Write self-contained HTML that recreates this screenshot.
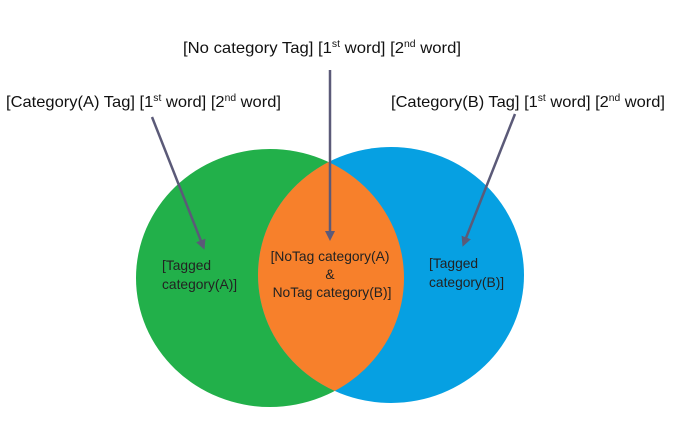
<!DOCTYPE html>
<html><head><style>
body{margin:0;width:675px;height:419px;background:#fff;overflow:hidden;font-family:"Liberation Sans",sans-serif;}
</style></head><body>
<svg width="675" height="419" xmlns="http://www.w3.org/2000/svg" style="font-family:'Liberation Sans',sans-serif">
<defs>
<clipPath id="g"><ellipse cx="270" cy="278" rx="134" ry="129"/></clipPath>
<marker id="a" markerWidth="10" markerHeight="10" refX="6" refY="5" orient="auto" markerUnits="userSpaceOnUse"><path d="M0,0 L10,5 L0,10 z" fill="#5b5a78"/></marker>
</defs>
<ellipse cx="270" cy="278" rx="134" ry="129" fill="#22b04a"/>
<ellipse cx="391" cy="275" rx="133" ry="128" fill="#06a0e2"/>
<ellipse cx="391" cy="275" rx="133" ry="128" fill="#f7802b" clip-path="url(#g)"/>
<g stroke="#5b5a78" stroke-width="2.5" fill="none">
<line x1="152" y1="117" x2="203" y2="246" marker-end="url(#a)"/>
<line x1="330" y1="70" x2="330" y2="237" marker-end="url(#a)"/>
<line x1="515" y1="114" x2="464" y2="243" marker-end="url(#a)"/>
</g>
<g font-size="16" fill="#111">
<text x="183" y="53" textLength="278" lengthAdjust="spacingAndGlyphs">[No category Tag] [1<tspan font-size="10" dy="-6">st</tspan><tspan dy="6"> word] [2</tspan><tspan font-size="10" dy="-6">nd</tspan><tspan dy="6"> word]</tspan></text>
<text x="6" y="107" textLength="275" lengthAdjust="spacingAndGlyphs">[Category(A) Tag] [1<tspan font-size="10" dy="-6">st</tspan><tspan dy="6"> word] [2</tspan><tspan font-size="10" dy="-6">nd</tspan><tspan dy="6"> word]</tspan></text>
<text x="391" y="107" textLength="274" lengthAdjust="spacingAndGlyphs">[Category(B) Tag] [1<tspan font-size="10" dy="-6">st</tspan><tspan dy="6"> word] [2</tspan><tspan font-size="10" dy="-6">nd</tspan><tspan dy="6"> word]</tspan></text>
</g>
<g font-size="13.8" fill="#222">
<text x="162" y="270">[Tagged</text>
<text x="162" y="289">category(A)]</text>
<text x="429" y="268">[Tagged</text>
<text x="429" y="287">category(B)]</text>
<text x="330" y="261" text-anchor="middle">[NoTag category(A)</text>
<text x="330" y="279" text-anchor="middle">&amp;</text>
<text x="332" y="297" text-anchor="middle">NoTag category(B)]</text>
</g>
</svg>
</body></html>
